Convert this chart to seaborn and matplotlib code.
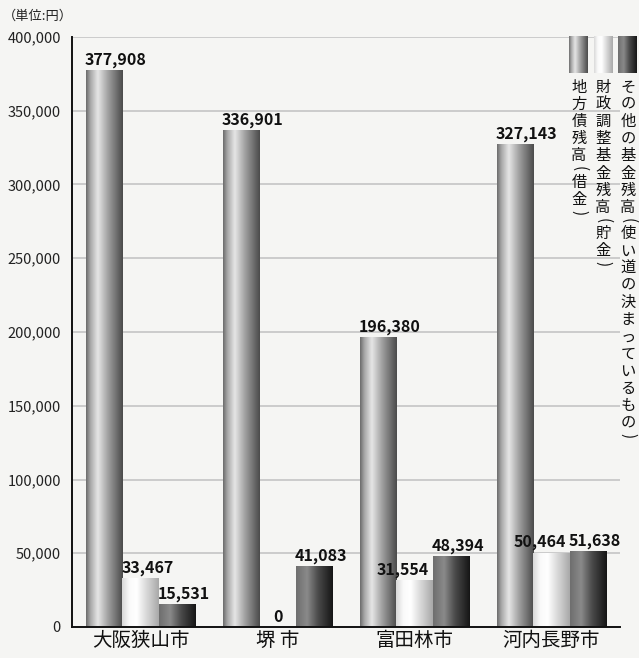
import numpy as np
import pandas as pd
import matplotlib
matplotlib.use("Agg")
import matplotlib.pyplot as plt
import seaborn as sns
from matplotlib.colors import LinearSegmentedColormap

cities = ["大阪狭山市", "堺 市", "富田林市", "河内長野市"]
series = ["地方債残高（借金）", "財政調整基金残高（貯金）", "その他の基金残高（使い道の決まっているもの）"]
debt = [377908, 336901, 196380, 327143]
reserve = [33467, 0, 31554, 50464]
other = [15531, 41083, 48394, 51638]
yticks = [0, 50000, 100000, 150000, 200000, 250000, 300000, 350000, 400000]
unit_label = "（単位:円）"

df = pd.DataFrame({
    "city": cities * 3,
    "series": [series[0]] * 4 + [series[1]] * 4 + [series[2]] * 4,
    "value": debt + reserve + other,
})

sns.set_theme(style="white")
plt.rcParams["font.family"] = ["Noto Sans CJK JP", "DejaVu Sans"]

BG = "#f5f5f3"
fig = plt.figure(figsize=(6.39, 6.58), dpi=100, facecolor=BG)
W, H = 639, 658
ax = fig.add_axes([72 / W, 1 - 627 / H, (620 - 72) / W, (627 - 37) / H])
ax.set_facecolor(BG)

sns.barplot(data=df, x="city", y="value", hue="series", order=cities,
            hue_order=series, width=0.8, ax=ax, legend=False,
            palette=["#999999", "#eeeeee", "#444444"], edgecolor="none",
            errorbar=None)

cmaps = [
    LinearSegmentedColormap.from_list("c1", [(0, "#6a6a6a"), (0.12, "#a8a8a8"), (0.32, "#e6e6e6"),
                                             (0.6, "#a0a0a0"), (1, "#4a4a4a")]),
    LinearSegmentedColormap.from_list("c2", [(0, "#d8d8d8"), (0.2, "#fafafa"), (0.4, "#ffffff"),
                                             (1, "#a8a8a8")]),
    LinearSegmentedColormap.from_list("c3", [(0, "#6e6e6e"), (0.3, "#8a8a8a"), (0.6, "#4a4a4a"),
                                             (1, "#151515")]),
]
grad = np.linspace(0, 1, 256).reshape(1, -1)

for ci, cont in enumerate(ax.containers):
    for patch in cont.patches:
        x0, y0 = patch.get_x(), patch.get_y()
        w, h = patch.get_width(), patch.get_height()
        if h <= 0:
            continue
        im = ax.imshow(grad, cmap=cmaps[ci], aspect="auto",
                       extent=[x0, x0 + w, y0, y0 + h], zorder=2, interpolation="bicubic")
        im.set_clip_path(patch)
        patch.set_facecolor("none")

ax.set_xlim(-0.5, 3.5)
ax.set_ylim(0, 400000)
ax.set_yticks(yticks)
ax.set_yticklabels([f"{v:,}" for v in yticks], fontsize=10.5, color="#222222")
ax.yaxis.grid(True, color="#c8c8c8", lw=1.3, zorder=0)
ax.set_axisbelow(True)
ax.tick_params(axis="y", length=0, pad=8)

ax.set_xticks(range(4))
ax.set_xticklabels(cities, fontsize=14, color="#111111")
ax.tick_params(axis="x", length=0, pad=2)
ax.set_xticks([0.5, 1.5, 2.5, 3.5], minor=True)
ax.tick_params(axis="x", which="minor", direction="in", length=11, width=1.2, color="#222222")
ax.set_xlabel("")
ax.set_ylabel("")

for s in ["top", "right"]:
    ax.spines[s].set_visible(False)
for s in ["left", "bottom"]:
    ax.spines[s].set_color("#111111")
    ax.spines[s].set_linewidth(1.4)

# value labels (alignment relative to each bar)
align = [["left"] * 4, ["left", "center", "right", "right"], ["left"] * 4]
for ci, cont in enumerate(ax.containers):
    for j, patch in enumerate(cont.patches):
        v = int(round(patch.get_height()))
        a = align[ci][j]
        if a == "left":
            xa, dx = patch.get_x(), -0.5
        elif a == "right":
            xa, dx = patch.get_x() + patch.get_width(), -2.5
        else:
            xa, dx = patch.get_x() + patch.get_width() / 2, 0
        ax.annotate(f"{v:,}", (xa, patch.get_height()),
                    xytext=(dx, 1.5), textcoords="offset points",
                    ha=a, va="bottom", fontsize=11.5, fontweight="bold",
                    color="#111111", zorder=5)

fig.text(3 / W, 1 - 16 / H, unit_label, fontsize=9.5, color="#222222", va="center", ha="left")

# vertical legend
sw_x = [569, 594, 618]
sw_w = 19
col_x = [579, 603, 628]
for i in range(3):
    lax = fig.add_axes([sw_x[i] / W, 1 - 73 / H, sw_w / W, (73 - 36) / H])
    lax.imshow(grad, cmap=cmaps[i], aspect="auto", interpolation="bicubic")
    lax.axis("off")
    y = 78.5
    for ch in series[i]:
        if ch in "（）":
            step = 9.0
            glyph = "(" if ch == "（" else ")"
            fig.text(col_x[i] / W, 1 - (y + step / 2) / H, glyph, fontsize=11,
                     rotation=-90, ha="center", va="center", color="#111111")
        else:
            step = 17.2
            fig.text(col_x[i] / W, 1 - (y + step / 2) / H, ch, fontsize=11,
                     ha="center", va="center", color="#111111")
        y += step

fig.savefig("out.png", dpi=100, facecolor=BG)
